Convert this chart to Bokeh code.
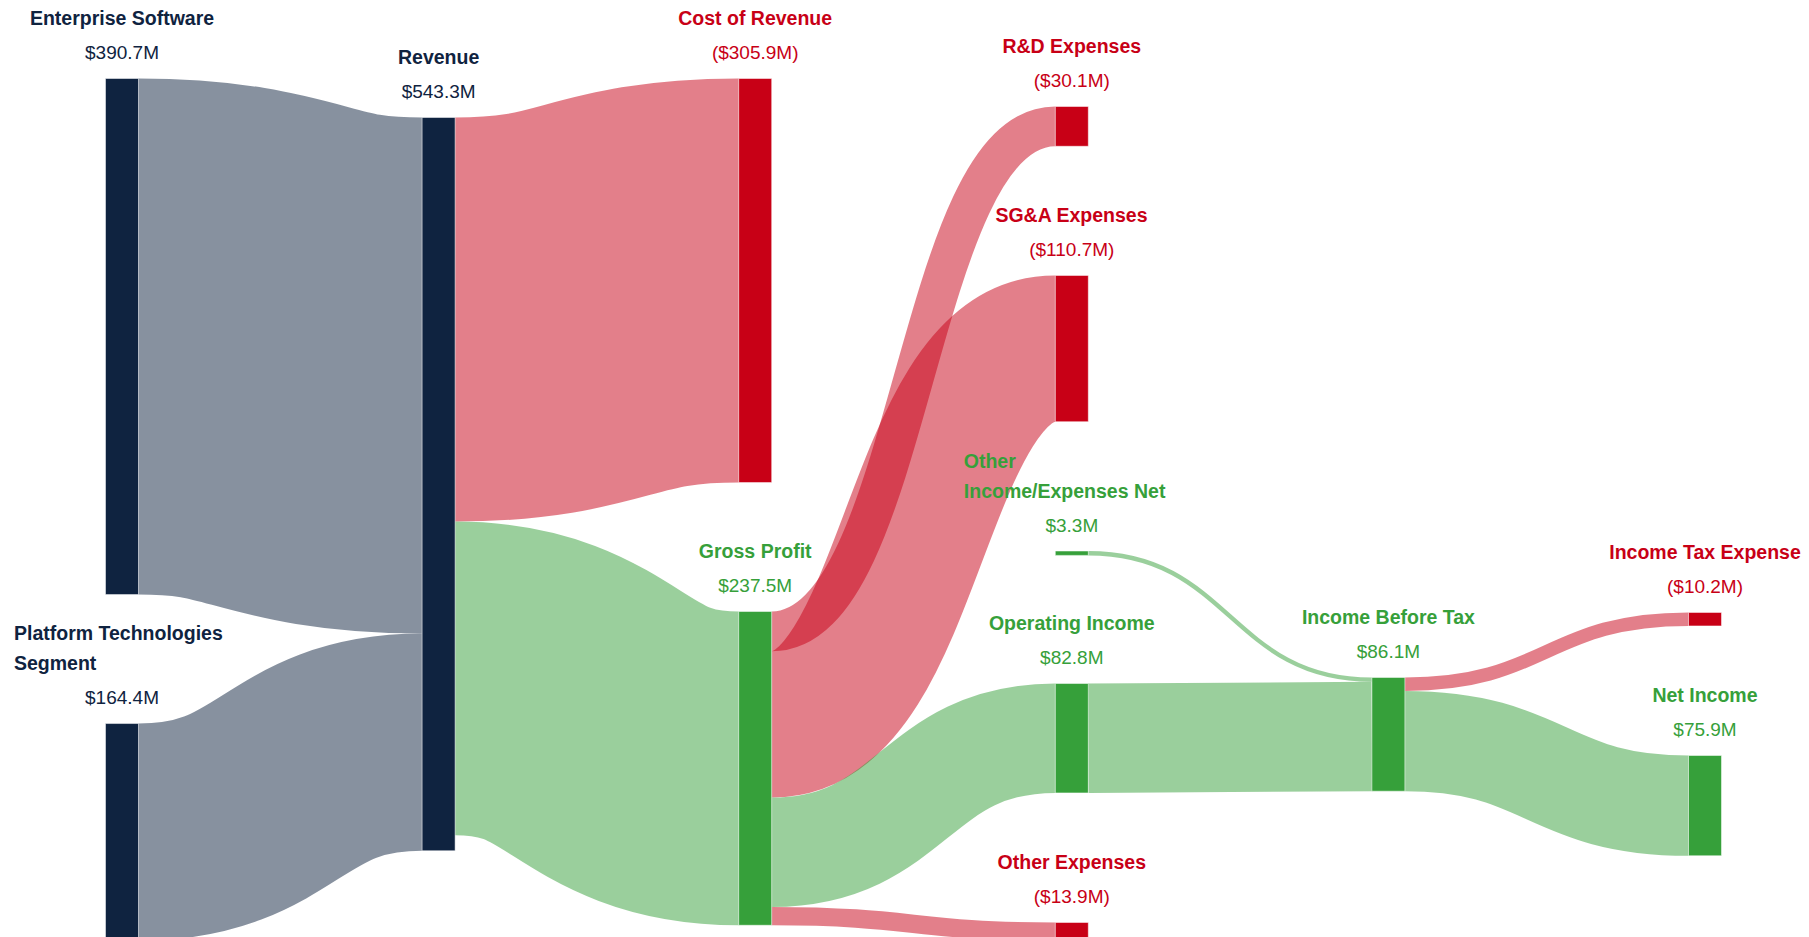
import numpy as np
from bokeh.plotting import figure
from bokeh.models import Range1d, ColumnDataSource
from bokeh.core.properties import value
from bokeh.embed import file_html
from bokeh.resources import INLINE

# ---------------- data ----------------
node_names = [
    "Enterprise Software",
    "Platform Technologies\nSegment",
    "Revenue",
    "Cost of Revenue",
    "Gross Profit",
    "R&D Expenses",
    "SG&A Expenses",
    "Other\nIncome/Expenses Net",
    "Operating Income",
    "Other Expenses",
    "Income Before Tax",
    "Income Tax Expense",
    "Net Income",
]
node_values = [390.7, 164.4, 543.3, 305.9, 237.5, 30.1, 110.7, 3.3, 82.8, 13.9, 86.1, 10.2, 75.9]
node_kinds = ["segment", "segment", "revenue", "expense", "profit", "expense", "expense",
              "profit", "profit", "expense", "profit", "expense", "profit"]

link_sources = [0, 1, 2, 2, 4, 4, 4, 4, 7, 8, 10, 10]
link_targets = [2, 2, 3, 4, 5, 6, 8, 9, 10, 10, 11, 12]
link_values = [390.7, 164.4, 305.9, 237.5, 30.1, 110.7, 82.8, 13.9, 3.3, 82.8, 10.2, 75.9]

# ---------------- layout (positions, not data) ----------------
node_column = [0, 0, 1, 2, 2, 3, 3, 3, 3, 3, 4, 5, 5]
# top of each node, in $M along the value axis (0 = top of first column)
node_top = [0.0, 488.3, 29.5, 0.0, 403.5, 21.2, 149.1, 357.7, 458.0, 638.9, 453.4, 404.2, 512.5]

W, H = 1809, 937
PX_PER_M = 1.321          # vertical scale of the value axis
TOP_PAD_PX = 78           # space above the value-axis origin
COL_X0, COL_STEP, NODE_W = 105.0, 316.6, 33.0

COLORS = {"segment": "#0f2340", "revenue": "#0f2340", "expense": "#c80016", "profit": "#36a03a"}
FONT = "Liberation Sans"
FS_VAL = "19px"
FS_LAB = "19.5px"
VAL_OFF, LAB_OFF, LINE_STEP = -26.0, -60.5, 30.0

y_min = -TOP_PAD_PX / PX_PER_M
y_max = y_min + H / PX_PER_M

p = figure(width=W, height=H, x_range=Range1d(0, W), y_range=Range1d(y_max, y_min),
           toolbar_location=None, output_backend="svg", min_border=0)
p.axis.visible = False
p.grid.visible = False
p.outline_line_color = None
p.background_fill_color = "white"
p.border_fill_color = "white"

n = len(node_names)
inflow = np.zeros(n)
outflow = np.zeros(n)
for s, t, v in zip(link_sources, link_targets, link_values):
    outflow[s] += v
    inflow[t] += v
node_size = np.maximum(inflow, outflow)
left = np.array([COL_X0 + c * COL_STEP for c in node_column])
right = left + NODE_W
top = np.array(node_top)
bottom = top + node_size
node_color = [COLORS[k] for k in node_kinds]

# ---------------- links (stroked bezier centre-lines) ----------------
out_off = np.zeros(n)
in_off = np.zeros(n)
L = dict(x0=[], y0=[], x1=[], y1=[], cx0=[], cy0=[], cx1=[], cy1=[], w=[], c=[])
for s, tg, v in zip(link_sources, link_targets, link_values):
    x0, x1 = right[s], left[tg]
    y0 = top[s] + out_off[s] + v / 2
    y1 = top[tg] + in_off[tg] + v / 2
    out_off[s] += v
    in_off[tg] += v
    xm = (x0 + x1) / 2
    L["x0"].append(x0); L["y0"].append(y0); L["x1"].append(x1); L["y1"].append(y1)
    L["cx0"].append(xm); L["cy0"].append(y0); L["cx1"].append(xm); L["cy1"].append(y1)
    L["w"].append(v * PX_PER_M)
    L["c"].append(COLORS[node_kinds[tg]])

p.bezier(x0="x0", y0="y0", x1="x1", y1="y1", cx0="cx0", cy0="cy0", cx1="cx1", cy1="cy1",
         source=ColumnDataSource(L), line_color="c", line_alpha=0.5, line_width="w",
         line_cap="butt")

# ---------------- nodes ----------------
p.quad(left="l", right="r", top="t", bottom="b",
       source=ColumnDataSource(dict(l=left, r=right, t=top, b=bottom, c=node_color)),
       fill_color="c", line_color="white", line_width=0.5)

# ---------------- labels ----------------
centers = (left + right) / 2
val_txt = [("(${:.1f}M)" if k == "expense" else "${:.1f}M").format(v)
           for v, k in zip(node_values, node_kinds)]
p.text(x="x", y="y", text="txt", source=ColumnDataSource(dict(x=centers, y=top, txt=val_txt, c=node_color)),
       text_color="c", text_font=value(FONT), text_font_size=FS_VAL, text_align="center",
       text_baseline="alphabetic", y_offset=VAL_OFF)

c_x, c_y, c_t, c_c = [], [], [], []
l_x, l_y, l_t, l_c, l_o = [], [], [], [], []
for i, name in enumerate(node_names):
    lines = name.split("\n")
    if len(lines) == 1:
        c_x.append(centers[i]); c_y.append(top[i]); c_t.append(name); c_c.append(node_color[i])
    else:
        for j, ln in enumerate(lines):
            l_x.append(centers[i] - 108); l_y.append(top[i]); l_t.append(ln); l_c.append(node_color[i])
            l_o.append(LAB_OFF - (len(lines) - 1 - j) * LINE_STEP)

p.text(x="x", y="y", text="txt", source=ColumnDataSource(dict(x=c_x, y=c_y, txt=c_t, c=c_c)),
       text_color="c", text_font=value(FONT), text_font_size=FS_LAB, text_font_style="bold",
       text_align="center", text_baseline="alphabetic", y_offset=LAB_OFF)
p.text(x="x", y="y", text="txt", source=ColumnDataSource(dict(x=l_x, y=l_y, txt=l_t, c=l_c, o=l_o)),
       text_color="c", text_font=value(FONT), text_font_size=FS_LAB, text_font_style="bold",
       text_align="left", text_baseline="alphabetic", y_offset="o")

open("out.html", "w").write(file_html(p, INLINE))
